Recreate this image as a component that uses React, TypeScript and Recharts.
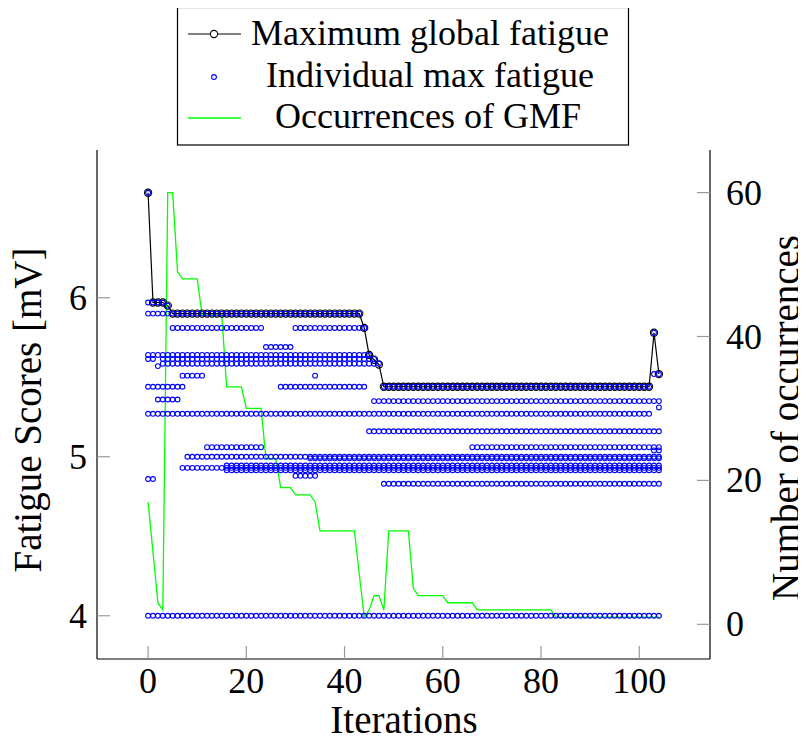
import React from 'react';
import { ComposedChart, Line, Scatter, XAxis, YAxis } from 'recharts';

// maximum global fatigue per iteration (x = 0..104)
const maxGlobalFatigue = [
    6.66, 5.97, 5.97, 5.97, 5.95, 5.9, 5.9, 5.9, 5.9, 5.9,
    5.9, 5.9, 5.9, 5.9, 5.9, 5.9, 5.9, 5.9, 5.9, 5.9,
    5.9, 5.9, 5.9, 5.9, 5.9, 5.9, 5.9, 5.9, 5.9, 5.9,
    5.9, 5.9, 5.9, 5.9, 5.9, 5.9, 5.9, 5.9, 5.9, 5.9,
    5.9, 5.9, 5.9, 5.9, 5.81, 5.64, 5.61, 5.58, 5.44, 5.44,
    5.44, 5.44, 5.44, 5.44, 5.44, 5.44, 5.44, 5.44, 5.44, 5.44,
    5.44, 5.44, 5.44, 5.44, 5.44, 5.44, 5.44, 5.44, 5.44, 5.44,
    5.44, 5.44, 5.44, 5.44, 5.44, 5.44, 5.44, 5.44, 5.44, 5.44,
    5.44, 5.44, 5.44, 5.44, 5.44, 5.44, 5.44, 5.44, 5.44, 5.44,
    5.44, 5.44, 5.44, 5.44, 5.44, 5.44, 5.44, 5.44, 5.44, 5.44,
    5.44, 5.44, 5.44, 5.78, 5.52
];

// occurrences of GMF per iteration
const occurrences = [
    17, 10, 3, 2, 60, 60, 49, 48, 48, 48,
    48, 43, 43, 43, 43, 43, 33, 33, 33, 33,
    30, 30, 30, 30, 23, 23, 23, 19, 19, 19,
    18, 18, 18, 18, 17, 13, 13, 13, 13, 13,
    13, 13, 13, 7, 1, 2, 4, 4, 2, 13,
    13, 13, 13, 13, 5, 4, 4, 4, 4, 4,
    4, 3, 3, 3, 3, 3, 3, 2, 2, 2,
    2, 2, 2, 2, 2, 2, 2, 2, 2, 2,
    2, 2, 2, 1, 1, 1, 1, 1, 1, 1,
    1, 1, 1, 1, 1, 1, 1, 1, 1, 1,
    1, 1, 1, 1, 1
];

// individual max fatigue: [value, first iteration, last iteration]
const individualRuns: [number, number, number][] = [
    [6.66, 0, 0],
    [5.97, 0, 3],
    [5.95, 4, 4],
    [5.9, 0, 43],
    [5.81, 5, 23],
    [5.69, 24, 29],
    [5.81, 30, 44],
    [5.78, 103, 103],
    [5.64, 0, 45],
    [5.615, 0, 1],
    [5.615, 3, 46],
    [5.585, 3, 47],
    [5.57, 2, 2],
    [5.52, 103, 104],
    [5.51, 7, 11],
    [5.51, 34, 34],
    [5.44, 0, 7],
    [5.44, 27, 44],
    [5.44, 48, 102],
    [5.36, 2, 6],
    [5.35, 46, 104],
    [5.31, 104, 104],
    [5.27, 0, 102],
    [5.16, 45, 104],
    [5.06, 12, 23],
    [5.06, 66, 104],
    [5.04, 103, 104],
    [5.0, 8, 104],
    [4.99, 33, 104],
    [4.945, 16, 104],
    [4.93, 7, 104],
    [4.915, 16, 104],
    [4.88, 30, 34],
    [4.86, 0, 1],
    [4.83, 48, 104],
    [4.0, 0, 104]
];

const xTicks = [0, 20, 40, 60, 80, 100];
const fatigueTicks = [4, 5, 6];
const occurrenceTicks = [0, 20, 40, 60];

const lineData = maxGlobalFatigue.map((v, i) => ({ x: i, gmf: v, occ: occurrences[i] }));
const individualData: { x: number; y: number }[] = [];
individualRuns.forEach(([v, a, b]) => {
    for (let i = a; i <= b; i++) individualData.push({ x: i, y: v });
});

const SERIF = "'Liberation Serif', 'DejaVu Serif', serif";
const textStyle = { fontFamily: SERIF, fontSize: 36 };
const titleStyle = { fontFamily: SERIF, fontSize: 39 };
const TICK = '#9a9a9a';
const TL = 13;

const BottomTick = (props: any) => {
    const { x, y, payload } = props;
    return (
        <g>
            <line x1={x} x2={x} y1={y} y2={y - TL} stroke={TICK} strokeWidth={1.2} />
            <text x={x} y={y + 34} textAnchor="middle" style={textStyle} fill="#000">
                {payload.value}
            </text>
        </g>
    );
};

const TopTick = (props: any) => {
    const { x, y } = props;
    return <line x1={x} x2={x} y1={y} y2={y + TL} stroke={TICK} strokeWidth={1.2} />;
};

const LeftTick = (props: any) => {
    const { x, y, payload } = props;
    return (
        <g>
            <line x1={x} x2={x + TL} y1={y} y2={y} stroke={TICK} strokeWidth={1.2} />
            <text x={x - 10} y={y + 12} textAnchor="end" style={textStyle} fill="#000">
                {payload.value}
            </text>
        </g>
    );
};

const RightTick = (props: any) => {
    const { x, y, payload } = props;
    return (
        <g>
            <line x1={x} x2={x - TL} y1={y} y2={y} stroke={TICK} strokeWidth={1.2} />
            <text x={x + 16} y={y + 12} textAnchor="start" style={textStyle} fill="#000">
                {payload.value}
            </text>
        </g>
    );
};

const BlueCircle = (props: any) => (
    <circle cx={props.cx} cy={props.cy} r={2.4} fill="none" stroke="#0000ff" strokeWidth={1.1} />
);

const Legend = () => (
    <svg width={806} height={150} style={{ position: 'absolute', left: 0, top: 0 }}>
        <rect x={177.5} y={7.5} width={451} height={137.5} fill="#fff" stroke="#000" strokeWidth={1.2} />
        <line x1={188} x2={241} y1={34} y2={34} stroke="#000" strokeWidth={1.2} />
        <circle cx={214} cy={34} r={3.6} fill="#fff" stroke="#000" strokeWidth={1.1} />
        <text x={430} y={45} textAnchor="middle" style={textStyle}>Maximum global fatigue</text>
        <circle cx={214} cy={77} r={2.4} fill="none" stroke="#0000ff" strokeWidth={1.1} />
        <text x={430} y={87} textAnchor="middle" style={textStyle}>Individual max fatigue</text>
        <line x1={188} x2={241} y1={118} y2={118} stroke="#00ff00" strokeWidth={1.3} />
        <text x={428} y={128} textAnchor="middle" style={textStyle}>Occurrences of GMF</text>
    </svg>
);

const Title = (props: any) => {
    const { tx, ty, rotate, text } = props;
    return (
        <text
            x={tx}
            y={ty}
            textAnchor="middle"
            style={titleStyle}
            fill="#000"
            transform={rotate ? `rotate(-90, ${tx}, ${ty})` : undefined}
        >
            {text}
        </text>
    );
};

const App = () => {
    return (
        <div style={{ position: 'relative', margin: -8, width: 806, height: 743, overflow: 'hidden', background: '#fff' }}>
            <ComposedChart
                width={806}
                height={743}
                data={lineData}
                margin={{ top: 150, right: 0, left: 0, bottom: 0 }}
            >
                <XAxis
                    dataKey="x"
                    type="number"
                    domain={[-10.4, 114.4]}
                    ticks={xTicks}
                    interval={0}
                    allowDataOverflow
                    height={84}
                    tickSize={0}
                    tickMargin={0}
                    tick={<BottomTick />}
                    axisLine={{ stroke: '#000', strokeWidth: 1.2 }}
                    label={<Title tx={404} ty={733} text="Iterations" />}
                />
                <XAxis
                    xAxisId="top"
                    orientation="top"
                    dataKey="x"
                    type="number"
                    domain={[-10.4, 114.4]}
                    ticks={xTicks}
                    interval={0}
                    allowDataOverflow
                    height={0}
                    tickSize={0}
                    tickMargin={0}
                    tick={<TopTick />}
                    axisLine={{ stroke: '#000', strokeWidth: 1.2 }}
                />
                <YAxis
                    yAxisId="left"
                    type="number"
                    domain={[3.728, 6.929]}
                    ticks={fatigueTicks}
                    interval={0}
                    allowDataOverflow
                    width={97}
                    tickSize={0}
                    tickMargin={0}
                    tick={<LeftTick />}
                    axisLine={{ stroke: '#000', strokeWidth: 1.2 }}
                    label={<Title tx={41} ty={410} rotate text="Fatigue Scores [mV]" />}
                />
                <YAxis
                    yAxisId="right"
                    orientation="right"
                    type="number"
                    domain={[-4.82, 65.92]}
                    ticks={occurrenceTicks}
                    interval={0}
                    allowDataOverflow
                    width={96}
                    tickSize={0}
                    tickMargin={0}
                    tick={<RightTick />}
                    axisLine={{ stroke: '#000', strokeWidth: 1.2 }}
                    label={<Title tx={799} ty={418} rotate text="Number of occurrences" />}
                />
                <Line
                    yAxisId="left"
                    dataKey="gmf"
                    type="linear"
                    stroke="#000"
                    strokeWidth={1.2}
                    dot={{ r: 3.6, stroke: '#000', strokeWidth: 1.1, fill: 'none' }}
                    activeDot={false}
                    isAnimationActive={false}
                />
                <Scatter
                    yAxisId="left"
                    data={individualData}
                    dataKey="y"
                    shape={<BlueCircle />}
                    isAnimationActive={false}
                />
                <Line
                    yAxisId="right"
                    dataKey="occ"
                    type="linear"
                    stroke="#00ff00"
                    strokeWidth={1.3}
                    dot={false}
                    activeDot={false}
                    isAnimationActive={false}
                />
            </ComposedChart>
            <Legend />
        </div>
    );
};

export default App;
